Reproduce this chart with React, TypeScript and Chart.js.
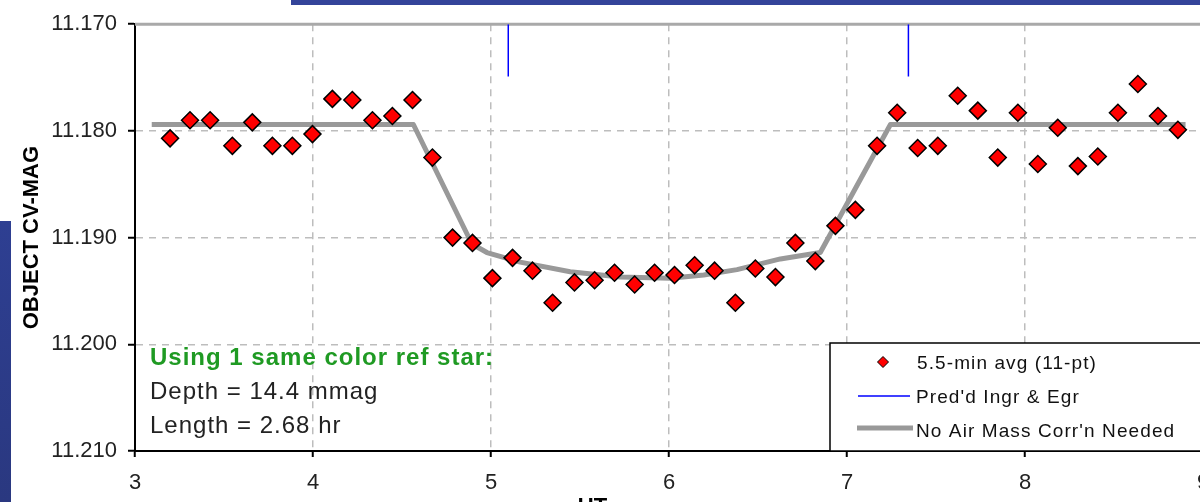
import React, { useEffect, useRef } from "react";
import { Chart, registerables } from "chart.js";

Chart.register(...registerables);

// ---- Data ----
const timesUT = [
  3.197, 3.309, 3.422, 3.547, 3.659, 3.772, 3.884, 3.997, 4.109, 4.221,
  4.334, 4.446, 4.559, 4.671, 4.784, 4.896, 5.008, 5.121, 5.233, 5.346,
  5.469, 5.582, 5.694, 5.807, 5.919, 6.031, 6.144, 6.256, 6.373, 6.485,
  6.598, 6.71, 6.822, 6.935, 7.047, 7.169, 7.282, 7.397, 7.51, 7.622,
  7.735, 7.847, 7.96, 8.072, 8.184, 8.297, 8.409, 8.522, 8.634, 8.747,
  8.859,
];
const mags = [
  11.1807, 11.179, 11.179, 11.1814, 11.1792, 11.1814, 11.1814, 11.1803, 11.177, 11.1771,
  11.179, 11.1786, 11.1771, 11.1825, 11.19, 11.1905, 11.1938, 11.1919, 11.1931, 11.1961,
  11.1942, 11.194, 11.1933, 11.1944, 11.1933, 11.1935, 11.1926, 11.1931, 11.1961, 11.1929,
  11.1937, 11.1905, 11.1922, 11.1889, 11.1874, 11.1814, 11.1783, 11.1816, 11.1814, 11.1767,
  11.1781, 11.1825, 11.1783, 11.1831, 11.1797, 11.1833, 11.1824, 11.1783, 11.1756, 11.1786,
  11.1799,
];

const modelUT = [3.094, 4.564, 4.893, 4.977, 5.164, 5.445, 5.726, 6.007, 6.195, 6.382, 6.626, 6.85, 7.244, 8.902];
const modelMag = [11.1794, 11.1794, 11.1906, 11.1914, 11.1923, 11.1932, 11.1937, 11.1938, 11.1935, 11.193, 11.192, 11.1914, 11.1794, 11.1794];

const predUT = [5.097, 7.345];
const predMagTop = 11.17;
const predMagBottom = 11.1749;

const xTicks = [3, 4, 5, 6, 7, 8, 9];
const yTicks = [11.17, 11.18, 11.19, 11.2, 11.21];

const legendLabels = ["5.5-min avg (11-pt)", "Pred'd Ingr & Egr", "No Air Mass Corr'n Needed"];
const noteTitle = "Using 1 same color ref star:";
const noteLines = ["Depth = 14.4 mmag", "Length = 2.68 hr"];
const xTitle = "UT";
const xTitleAt = 5.57; // UT value under which the axis title sits

const FONT = 'Arial, "Liberation Sans", sans-serif';

const overlayPlugin = {
  id: "overlay",
  beforeDatasetsDraw(chart: any) {
    const { ctx, chartArea } = chart;
    ctx.save();
    ctx.strokeStyle = "#a9a9a9";
    ctx.lineWidth = 3;
    ctx.beginPath();
    ctx.moveTo(chartArea.left, chartArea.top);
    ctx.lineTo(chart.width, chartArea.top);
    ctx.stroke();
    ctx.restore();
  },
  afterDraw(chart: any) {
    const { ctx, chartArea } = chart;
    ctx.save();
    // x-axis title
    ctx.fillStyle = "#000";
    ctx.font = `bold 22px ${FONT}`;
    ctx.textAlign = "center";
    ctx.textBaseline = "alphabetic";
    ctx.fillText(xTitle, chart.scales.x.getPixelForValue(xTitleAt), chartArea.bottom + 62);

    // annotation text
    const ax = chartArea.left + 15;
    ctx.textAlign = "left";
    try { (ctx as any).letterSpacing = "1px"; } catch (e) {}
    ctx.fillStyle = "#1f9a23";
    ctx.font = `bold 24px ${FONT}`;
    ctx.fillText(noteTitle, ax, chartArea.bottom - 86);
    ctx.fillStyle = "#222";
    ctx.font = `24px ${FONT}`;
    ctx.fillText(noteLines[0], ax, chartArea.bottom - 52.5);
    ctx.fillText(noteLines[1], ax, chartArea.bottom - 18);

    // legend box
    const lx = chartArea.right - 373;
    const ly = chartArea.bottom - 108;
    ctx.fillStyle = "#ffffff";
    ctx.fillRect(lx, ly, 420, 108);
    ctx.strokeStyle = "#000";
    ctx.lineWidth = 1.5;
    ctx.strokeRect(lx, ly, 420, 108);

    // item 1: diamond
    const mx = lx + 53, my = ly + 19;
    ctx.beginPath();
    ctx.moveTo(mx, my - 5.5);
    ctx.lineTo(mx + 5.5, my);
    ctx.lineTo(mx, my + 5.5);
    ctx.lineTo(mx - 5.5, my);
    ctx.closePath();
    ctx.fillStyle = "#ff0000";
    ctx.fill();
    ctx.lineWidth = 1;
    ctx.strokeStyle = "#000";
    ctx.stroke();
    // item 2: blue line
    ctx.beginPath();
    ctx.strokeStyle = "#0000ff";
    ctx.lineWidth = 1.5;
    ctx.moveTo(lx + 28, ly + 53);
    ctx.lineTo(lx + 80, ly + 53);
    ctx.stroke();
    // item 3: gray thick line
    ctx.beginPath();
    ctx.strokeStyle = "#999999";
    ctx.lineWidth = 5;
    ctx.moveTo(lx + 27, ly + 85);
    ctx.lineTo(lx + 83, ly + 85);
    ctx.stroke();

    ctx.fillStyle = "#111";
    ctx.font = `19px ${FONT}`;
    try { (ctx as any).letterSpacing = "1.1px"; } catch (e) {}
    ctx.fillText(legendLabels[0], lx + 87, ly + 26);
    ctx.fillText(legendLabels[1], lx + 86, ly + 60);
    ctx.fillText(legendLabels[2], lx + 86, ly + 94);
    ctx.restore();
  },
};

export default function App() {
  const canvasRef = useRef<HTMLCanvasElement | null>(null);

  useEffect(() => {
    const canvas = canvasRef.current;
    if (!canvas) return;
    const points = timesUT.map((x, i) => ({ x, y: mags[i] }));
    const model = modelUT.map((x, i) => ({ x, y: modelMag[i] }));
    const pred: any[] = [];
    predUT.forEach((x, i) => {
      if (i > 0) pred.push({ x, y: null });
      pred.push({ x, y: predMagTop });
      pred.push({ x, y: predMagBottom });
    });

    const chart = new Chart(canvas, {
      type: "scatter",
      data: {
        datasets: [
          {
            type: "scatter",
            label: legendLabels[0],
            data: points,
            pointStyle: "rectRot",
            pointRadius: 8.5,
            pointBackgroundColor: "#ff0000",
            pointBorderColor: "#000000",
            pointBorderWidth: 1.5,
            showLine: false,
          } as any,
          {
            type: "line",
            label: legendLabels[1],
            data: pred,
            borderColor: "#0000ff",
            borderWidth: 1.5,
            pointRadius: 0,
            spanGaps: false,
            fill: false,
          } as any,
          {
            type: "line",
            label: legendLabels[2],
            data: model,
            borderColor: "#999999",
            borderWidth: 5,
            pointRadius: 0,
            tension: 0,
            fill: false,
            borderJoinStyle: "round",
          } as any,
        ],
      },
      options: {
        responsive: false,
        animation: false,
        devicePixelRatio: 1,
        layout: { padding: { top: 20, right: 27, left: 0, bottom: 0 } },
        plugins: { legend: { display: false }, tooltip: { enabled: false } },
        scales: {
          x: {
            type: "linear",
            min: 3,
            max: 9,
            afterBuildTicks: (s: any) => {
              s.ticks = xTicks.map((v) => ({ value: v }));
            },
            ticks: {
              stepSize: 1,
              font: { family: FONT, size: 22 },
              color: "#222",
              padding: 13,
              maxRotation: 0,
            },
            grid: {
              color: (c: any) => (c.tick && (c.tick.value === 3 || c.tick.value === 9) ? "rgba(0,0,0,0)" : "#bdbdbd"),
              lineWidth: 1.5,
              tickColor: "#000",
              tickLength: 6,
              tickWidth: 2,
            },
            border: { color: "#000", width: 2, dash: [7, 6] },
            title: { display: false },
            afterFit: (s: any) => {
              s.height = 69;
            },
          } as any,
          y: {
            type: "linear",
            reverse: true,
            min: 11.17,
            max: 11.21,
            afterBuildTicks: (s: any) => {
              s.ticks = yTicks.map((v) => ({ value: v }));
            },
            ticks: {
              stepSize: 0.01,
              callback: (v: any) => Number(v).toFixed(3),
              font: { family: FONT, size: 22 },
              color: "#222",
              padding: 11,
            },
            grid: {
              color: (c: any) =>
                c.tick && (Math.abs(c.tick.value - 11.17) < 1e-6 || Math.abs(c.tick.value - 11.21) < 1e-6)
                  ? "rgba(0,0,0,0)"
                  : "#bdbdbd",
              lineWidth: 1.5,
              tickColor: "#000",
              tickLength: 7,
              tickWidth: 2,
            },
            border: { color: "#000", width: 2, dash: [7, 6] },
            title: {
              display: true,
              text: "OBJECT CV-MAG",
              color: "#000",
              font: { family: FONT, size: 22, weight: "bold" },
              padding: { top: 19, bottom: 0 },
            },
            afterFit: (s: any) => {
              s.width = 135;
            },
          } as any,
        },
      },
      plugins: [overlayPlugin],
    });
    return () => chart.destroy();
  }, []);

  return (
    <div
      style={{
        position: "fixed",
        left: 0,
        top: 0,
        width: 1200,
        height: 502,
        overflow: "hidden",
        background: "#ffffff",
      }}
    >
      <div style={{ position: "absolute", left: 291, top: 0, width: 909, height: 5, background: "#34449a" }} />
      <div style={{ position: "absolute", left: 0, top: 221, width: 11, height: 281, background: "linear-gradient(180deg,#2e3f92,#2a3880)" }} />
      <canvas ref={canvasRef} width={1230} height={520} style={{ position: "absolute", left: 0, top: 0 }} />
    </div>
  );
}
